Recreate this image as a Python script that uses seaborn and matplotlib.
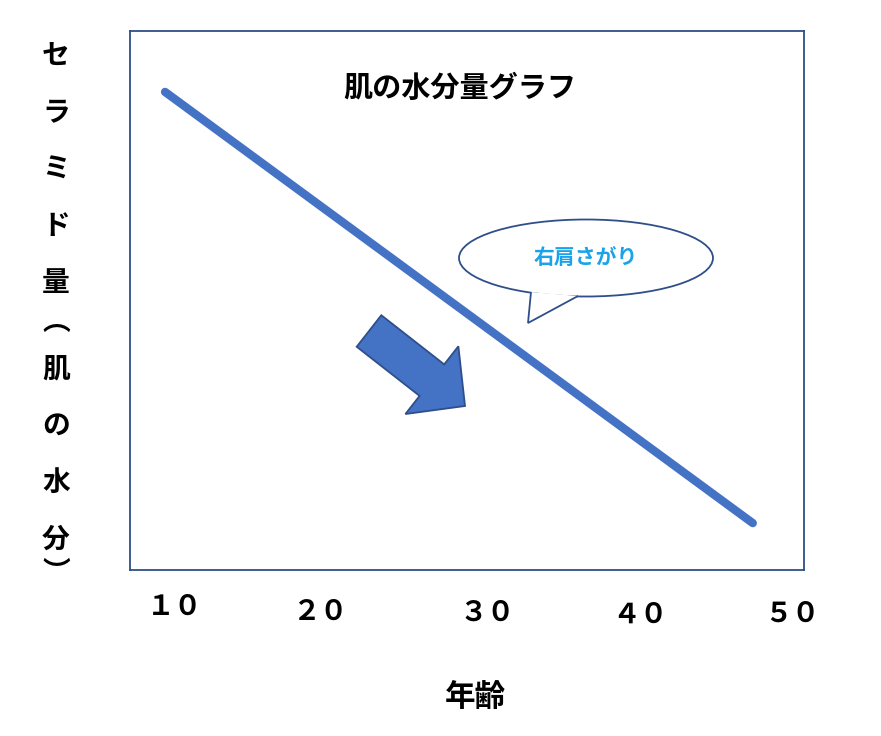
import matplotlib
matplotlib.use("Agg")
import matplotlib.pyplot as plt
import matplotlib.patches as mpatches
from matplotlib.transforms import IdentityTransform
import seaborn as sns
import pandas as pd

sns.set_style("white")
plt.rcParams['font.family'] = ['Noto Sans CJK JP', 'DejaVu Sans']

# line in axes units (0..1)
line_x = [0.052, 0.924]
line_y = [0.887, 0.087]
tick_labels = ["１０", "２０", "３０", "４０", "５０"]
tick_px = [(175, 607), (320, 612), (487, 613), (640, 615), (792, 614)]
ylabel_chars = ["セ", "ラ", "ミ", "ド", "量", "︵", "肌", "の", "水", "分", "︶"]
ylabel_py = [57, 113, 170, 226, 283, 322, 370, 426, 483, 540, 573]

W, H = 881, 736
fig = plt.figure(figsize=(W / 100, H / 100), dpi=100)
ax = fig.add_axes([130 / W, (H - 570) / H, 674 / W, 539 / H])

df = pd.DataFrame({"x": line_x, "y": line_y})
sns.lineplot(data=df, x="x", y="y", ax=ax, color="#4472c4", linewidth=6)
ax.set_xlim(0, 1)
ax.set_ylim(0, 1)
ax.set_xticks([])
ax.set_yticks([])
ax.set_xlabel("")
ax.set_ylabel("")
for s in ax.spines.values():
    s.set_color("#2f4f8a")
    s.set_linewidth(1.3)

fig.text(460 / W, 1 - 88 / H, "肌の水分量グラフ", fontsize=21, fontweight="bold",
         ha="center", va="center", color="black")

# block arrow (pixel coords)
arr = mpatches.FancyArrow(369, H - 331, 96, -75, width=40, head_width=86,
                          head_length=42, length_includes_head=True,
                          transform=IdentityTransform(),
                          facecolor="#4472c4", edgecolor="#2f4f8a", linewidth=1.3)
fig.add_artist(arr)

# speech bubble
ell = mpatches.Ellipse((586, H - 258), 254, 77, transform=IdentityTransform(),
                       facecolor="white", edgecolor="#2f4f8a", linewidth=1.3)
fig.add_artist(ell)
tail = mpatches.Polygon([(531, H - 292), (528, H - 323), (578, H - 296)],
                        closed=False, transform=IdentityTransform(),
                        facecolor="white", edgecolor="#2f4f8a", linewidth=1.3)
fig.add_artist(tail)
fig.text(586 / W, 1 - 257 / H, "右肩さがり", color="#1aa3e8", fontsize=15,
         fontweight="bold", ha="center", va="center")

for lab, (px, py) in zip(tick_labels, tick_px):
    fig.text(px / W, 1 - py / H, lab, fontsize=20, fontweight="bold",
             ha="center", va="center", color="black")

for ch, py in zip(ylabel_chars, ylabel_py):
    fig.text(56 / W, 1 - py / H, ch, fontsize=20, fontweight="bold",
             ha="center", va="center", color="black")

fig.text(475 / W, 1 - 697 / H, "年齢", fontsize=22, fontweight="bold",
         ha="center", va="center", color="black")

fig.savefig("out.png", dpi=100)
